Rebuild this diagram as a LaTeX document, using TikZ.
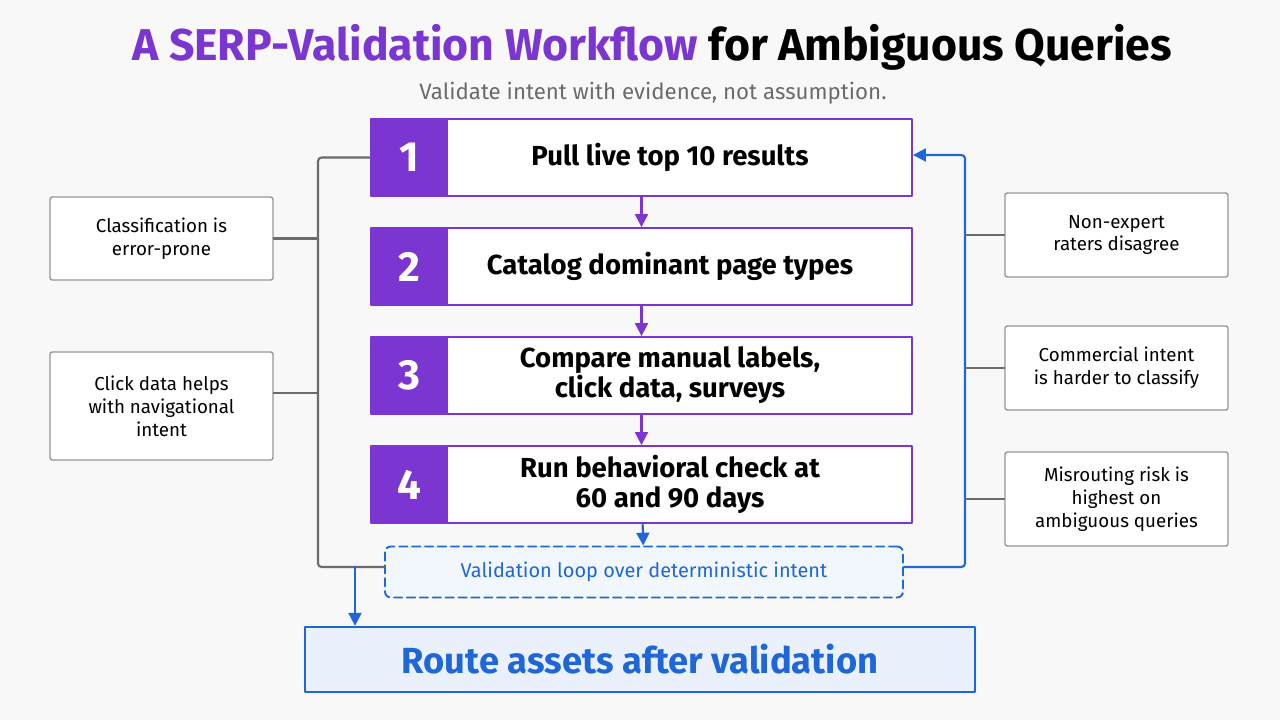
\documentclass[tikz,border=0pt]{standalone}
\usepackage{fontspec}
\setmainfont{Fira Sans}
\usetikzlibrary{arrows.meta,positioning}
\definecolor{vio}{HTML}{7B35D0}
\definecolor{blu}{HTML}{1F66D6}
\definecolor{lblu}{HTML}{EAF1FC}
\definecolor{gry}{HTML}{6B6B6B}
\definecolor{bg}{HTML}{F8F8F9}
\tikzset{
  stepbox/.style={draw=vio,line width=1.6pt,fill=white,minimum width=16.23cm,minimum height=2.31cm,inner sep=0pt},
  num/.style={fill=vio,text=white,minimum width=2.34cm,minimum height=2.31cm,inner sep=0pt,font=\bfseries\fontsize{36}{36}\selectfont},
  steptxt/.style={align=center,font=\bfseries\fontsize{23.5}{25.5}\selectfont},
  side/.style={draw=gry!70,line width=1.2pt,fill=white,rounded corners=2pt,minimum width=6.69cm,align=center,font=\fontsize{16}{19.5}\selectfont},
  gline/.style={gry,line width=1.8pt},
  bline/.style={blu,line width=1.8pt},
}
\begin{document}
\begin{tikzpicture}[line cap=round,line join=round,>={Triangle[length=11pt,width=11pt]},x=0.03cm,y=-0.03cm]
\fill[bg] (0,0) rectangle (1280,720);
\useasboundingbox (0,0) rectangle (1280,720);
\node (title) at (652,47) {\bfseries\fontsize{38}{42}\selectfont\textcolor{vio}{A SERP-Validation Workflow} for Ambiguous Queries};
\node[gry,font=\fontsize{19}{22}\selectfont] (sub) at (653,93) {Validate intent with evidence, not assumption.};
% steps
\foreach \i/\y/\t in {1/157.5/Pull live top 10 results,2/266.5/Catalog dominant page types,3/375.5/{Compare manual labels,\\click data, surveys},4/484.5/{Run behavioral check at\\60 and 90 days}}{
  \node[stepbox] (s\i) at (641.5,\y) {};
  \node[num,anchor=west] (n\i) at (s\i.west) {\i};
  \node[steptxt] (t\i) at (670,\y) {\t};
}
\foreach \a/\b in {s1/s2,s2/s3,s3/s4}
  \draw[->,vio,line width=1.8pt] (\a) -- (\b);
% loop and route
\node[draw=blu,dash pattern=on 7pt off 4pt,line width=1.6pt,fill=lblu!60,rounded corners=5pt,minimum width=15.54cm,minimum height=1.53cm,text=blu,font=\fontsize{17}{20}\selectfont] (loop) at (644,572) {Validation loop over deterministic intent};
\draw[->,bline] (s4) -- (loop);
\node[draw=blu,line width=2pt,fill=lblu,minimum width=20.1cm,minimum height=1.95cm,text=blu,font=\bfseries\fontsize{31}{36}\selectfont] (route) at (640,659.5) {Route assets after validation};
% side boxes
\node[side,minimum height=2.49cm] (l1) at (161.5,238.5) {Classification is\\error-prone};
\node[side,minimum height=3.24cm] (l2) at (161.5,406) {Click data helps\\with navigational\\intent};
\node[side,minimum height=2.52cm] (r1) at (1116.5,235) {Non-expert\\raters disagree};
\node[side,minimum height=2.52cm] (r2) at (1116.5,368) {Commercial intent\\is harder to classify};
\node[side,minimum height=2.82cm] (r3) at (1116.5,499) {Misrouting risk is\\highest on\\ambiguous queries};
% left bracket
\coordinate (lt) at (318,157.5);
\coordinate (lb) at (318,567);
\draw[gline,rounded corners=3pt] (n1.west) -- (lt) -- (lb) -- (loop.west|-lb);
\draw[gline] (l1.east) -- (l1.east-|lt);
\draw[gline] (l2.east|-0,393) -- (318,393);
\coordinate (rd) at (355,567);
\draw[->,bline] (rd) -- (rd|-route.north);
% right loop back
\coordinate (rt) at (965,155);
\coordinate (rb) at (965,567);
\draw[->,bline,rounded corners=3pt] (loop.east|-rb) -- (rb) -- (rt) -- (s1.east|-rt);
\foreach \r in {r1,r2,r3}
  \draw[gline] (\r.west) -- (\r.west-|rt);
\end{tikzpicture}
\end{document}
